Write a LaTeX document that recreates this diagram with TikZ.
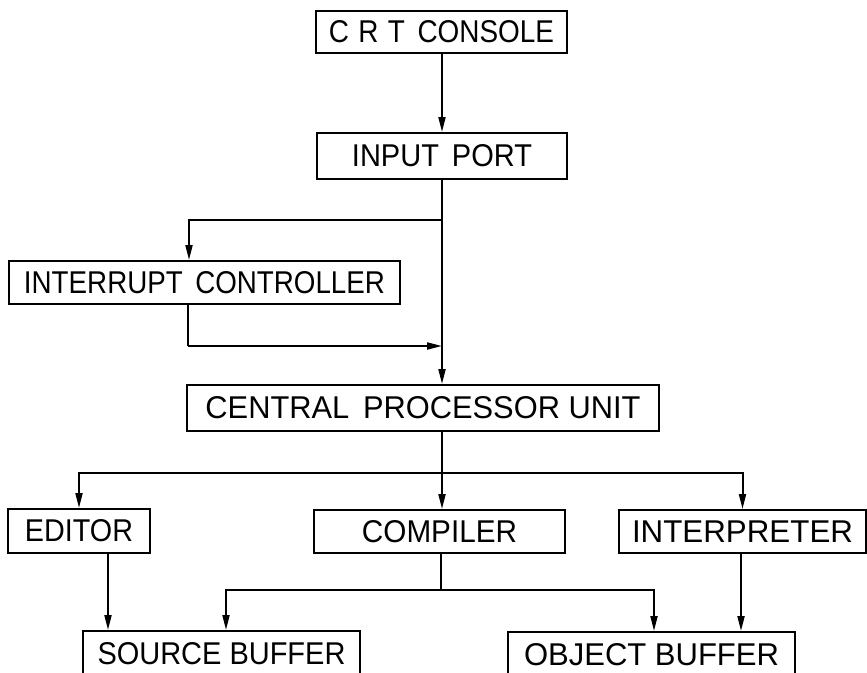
\documentclass[tikz,border=0pt]{standalone}
\usepackage{fontspec}
\setmainfont{Liberation Sans}
\usetikzlibrary{arrows.meta}
% set a label in capitals at a given width, keeping its natural height
\newcommand{\lbl}[2]{\resizebox{#1pt}{\height}{#2}}
\newcommand{\gap}{\hspace{0.45em}}

\begin{document}
\begin{tikzpicture}[x=1pt,y=-1pt,
  box/.style={draw, line width=2pt, inner sep=0pt, font=\fontsize{31.5}{31.5}\selectfont},
  link/.style={line width=2pt},
  arr/.style={link, -{Triangle[length=15pt,width=7pt]}}]
\useasboundingbox (0,0) rectangle (867,672);
\clip (0,0) rectangle (867,672);

% blocks
\node[box, minimum width=251pt, minimum height=42pt] (crt)  at (441.5,32)  {\lbl{225}{C\,\,R\,\,T\gap CONSOLE}};
\node[box, minimum width=250pt, minimum height=46pt] (inp)  at (442,156)   {\lbl{180}{INPUT\gap PORT}};
\node[box, minimum width=391pt, minimum height=43pt] (intc) at (204.5,282.5) {\lbl{361}{INTERRUPT\gap CONTROLLER}};
\node[box, minimum width=472pt, minimum height=46pt] (cpu)  at (423,408)   {\lbl{435}{CENTRAL\gap PROCESSOR UNIT}};
\node[box, minimum width=142pt, minimum height=44pt] (edit) at (79,531)    {\lbl{108}{EDITOR}};
\node[box, minimum width=251pt, minimum height=43pt] (comp) at (439.5,531.5) {\lbl{155}{COMPILER}};
\node[box, minimum width=247pt, minimum height=43pt] (intp) at (742.5,531.5) {\lbl{221}{INTERPRETER}};
\node[box, minimum width=277pt, minimum height=45pt] (src)  at (221.5,653.5) {\lbl{248}{SOURCE BUFFER}};
\node[box, minimum width=287pt, minimum height=45pt] (obj)  at (651.5,654.5) {\lbl{255}{OBJECT BUFFER}};

% junction points and drop lines
\coordinate (mx) at (442,0);
\coordinate (j1) at (442,220);
\coordinate (icin) at (189,0);
\coordinate (icout) at (188,346);
\coordinate (j3) at (442,473);
\coordinate (ex) at (108,0);
\coordinate (j4) at (441,590);
\coordinate (sx) at (226,0);
\coordinate (ox) at (654,0);
\coordinate (ix) at (741,0);

% console to input port to processor
\draw[arr] (crt.south -| mx) -- (inp.north -| mx);
\draw[arr] (inp.south -| mx) -- (cpu.north -| mx);

% interrupt controller loop
\draw[arr] (j1) -| (icin |- intc.north);
\draw[link] (intc.south -| icout) -- (icout);
\draw[arr] (icout) -- (icout -| mx);

% processor fan-out
\draw[arr] (cpu.south -| mx) -- (comp.north -| mx);
\draw[arr] (j3) -| (edit.north);
\draw[arr] (j3) -| (intp.north);

% into the buffers
\draw[arr] (edit.south -| ex) -- (src.north -| ex);
\draw[link] (comp.south -| j4) -- (j4);
\draw[arr] (j4) -| (sx |- src.north);
\draw[arr] (j4) -| (ox |- obj.north);
\draw[arr] (intp.south -| ix) -- (obj.north -| ix);
\end{tikzpicture}
\end{document}
